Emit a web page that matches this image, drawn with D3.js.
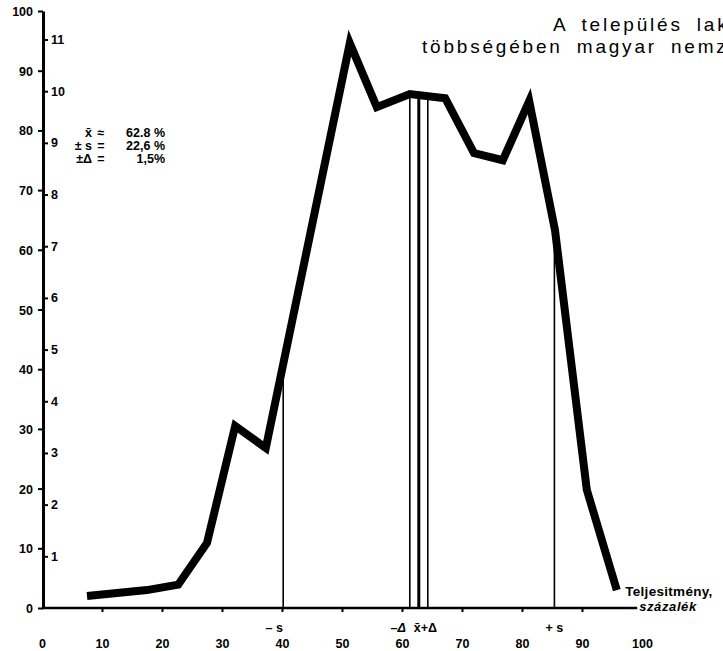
<!DOCTYPE html>
<html>
<head>
<meta charset="UTF-8">
<title>Teljesítmény eloszlás</title>
<script src="https://d3js.org/d3.v7.min.js"></script>
<style>
  body { margin: 0; background: #fff; }
  svg { display: block; background: #fff; font-family: "Liberation Sans", Arial, sans-serif; }
  .num { font-weight: bold; font-size: 12.5px; fill: #000; }
  .axis path, .axis line { stroke: #000; }
</style>
</head>
<body>
<svg id="chart"></svg>
<script>
// values
const xTickValues = [0, 10, 20, 30, 40, 50, 60, 70, 80, 90, 100];
const yTickValues = [0, 10, 20, 30, 40, 50, 60, 70, 80, 90, 100];
const countTickValues = [1, 2, 3, 4, 5, 6, 7, 8, 9, 10, 11];

const perfValues = [7.5, 12.5, 17.5, 22.7, 27.5, 32.2, 37.3, 51.3, 55.8, 61.3, 67.2, 72.0, 76.8, 81.2, 85.5, 90.8, 95.8];
const freqValues = [2.0, 2.5, 3.0, 3.9, 10.9, 30.5, 26.8, 94.6, 83.9, 86.1, 85.4, 76.2, 75.0, 84.9, 63.3, 19.8, 3.0];

const mean = 62.8, sd = 22.6, delta = 1.5;
const statSymbols = ["x̄", "± s", "±Δ"];
const statRelations = ["≈", "=", "="];
const statValues = ["62.8 %", "22,6 %", "1,5%"];

const titleLines = ["A település lakosságának", "többségében magyar nemzetiségű"];
const axisName = ["Teljesitmény,", "százalék"];
const xAxisEnd = 99.2;

const width = 723, height = 651;
const svg = d3.select("#chart").attr("width", width).attr("height", height);

const x = d3.scaleLinear().domain([0, 100]).range([42, 642]);
const y = d3.scaleLinear().domain([0, 100]).range([608, 11]);
const yCount = d3.scaleLinear().domain([0, 11]).range([608, 39.5]);

// left axis 0..100
const yAxis = svg.append("g").attr("class", "axis")
  .attr("transform", `translate(${x(0) + 1},0)`)
  .call(d3.axisLeft(y).tickValues(yTickValues).tickSize(5).tickSizeOuter(0).tickPadding(5));
yAxis.select(".domain").attr("stroke-width", 3);
yAxis.selectAll(".tick line").attr("stroke-width", 2);
yAxis.selectAll(".tick text").attr("class", "num").attr("font-family", null).attr("font-size", null)
  .attr("dy", "0.36em");

// inner count axis 1..11
const cAxis = svg.append("g").attr("class", "axis")
  .attr("transform", `translate(${x(0) + 1},0)`)
  .call(d3.axisRight(yCount).tickValues(countTickValues).tickSize(5).tickSizeOuter(0).tickPadding(3));
cAxis.select(".domain").remove();
cAxis.selectAll(".tick line").attr("stroke-width", 2);
cAxis.selectAll(".tick text").attr("class", "num").attr("font-family", null).attr("font-size", null);

// bottom axis
const xAxis = svg.append("g").attr("class", "axis")
  .attr("transform", `translate(0,${y(0)})`)
  .call(d3.axisBottom(x).tickValues(xTickValues).tickSize(4).tickSizeOuter(0).tickPadding(27));
xAxis.select(".domain").remove();
xAxis.selectAll(".tick line").attr("stroke-width", 2)
  .attr("display", d => (d === 0 || d === 100) ? "none" : null);
xAxis.selectAll(".tick text").attr("class", "num").attr("font-family", null).attr("font-size", null);
svg.append("line")
  .attr("x1", x(0)).attr("x2", x(xAxisEnd))
  .attr("y1", y(0)).attr("y2", y(0))
  .attr("stroke", "#000").attr("stroke-width", 2.5);

// height of the curve at a given performance value
function curveAt(v) {
  const i = d3.bisectLeft(perfValues, v);
  const t = (v - perfValues[i - 1]) / (perfValues[i] - perfValues[i - 1]);
  return freqValues[i - 1] + t * (freqValues[i] - freqValues[i - 1]);
}

// vertical marker lines
const markers = [mean - sd, mean - delta, mean, mean + delta, mean + sd];
svg.append("g").selectAll("line")
  .data(markers)
  .join("line")
  .attr("x1", d => x(d)).attr("x2", d => x(d))
  .attr("y1", y(0)).attr("y2", d => y(curveAt(d)))
  .attr("stroke", "#000")
  .attr("stroke-width", d => d === mean ? 3 : 1.6);

// the distribution curve
const line = d3.line()
  .x((d, i) => x(perfValues[i]))
  .y(d => y(d));
svg.append("path")
  .datum(freqValues)
  .attr("d", line)
  .attr("fill", "none")
  .attr("stroke", "#000")
  .attr("stroke-width", 8)
  .attr("stroke-linejoin", "miter");

// marker labels under the axis
const markLabels = svg.append("g").attr("class", "num");
markLabels.append("text").attr("x", x(mean - sd) - 9).attr("y", y(0) + 24)
  .attr("text-anchor", "middle").text("– s");
markLabels.append("text").attr("x", x(mean - delta) - 4).attr("y", y(0) + 24)
  .attr("text-anchor", "end").style("font-style", "italic").text("–Δ");
markLabels.append("text").attr("x", x(mean) - 5).attr("y", y(0) + 24)
  .attr("text-anchor", "start").text("x̄+Δ");
markLabels.append("text").attr("x", x(mean + sd)).attr("y", y(0) + 24)
  .attr("text-anchor", "middle").text("+ s");

// axis name at the end of the x axis
svg.append("text").attr("class", "num").attr("x", x(97.2)).attr("y", y(0) - 12)
  .style("font-size", "13.5px").attr("letter-spacing", 0.3).text(axisName[0]);
svg.append("text").attr("class", "num").attr("x", x(xAxisEnd) + 2).attr("y", y(0) + 3)
  .style("font-size", "13px").style("font-style", "italic").attr("letter-spacing", 0.6).text(axisName[1]);

// statistics block
const stats = svg.append("g").attr("class", "num").style("font-size", "12.5px");
statSymbols.forEach((s, i) => {
  const by = 137 + i * 13;
  stats.append("text").attr("x", 92).attr("y", by).attr("text-anchor", "end").text(s);
  stats.append("text").attr("x", 101).attr("y", by).attr("text-anchor", "middle").text(statRelations[i]);
  stats.append("text").attr("x", 165).attr("y", by).attr("text-anchor", "end").text(statValues[i]);
});

// title (runs off the page edge as in the scan)
svg.append("g").selectAll("text")
  .data(titleLines)
  .join("text")
  .attr("x", (d, i) => i === 0 ? 553 : 422)
  .attr("y", (d, i) => 31 + i * 22)
  .attr("font-size", 19)
  .attr("letter-spacing", 2.8)
  .attr("word-spacing", 6)
  .text(d => d);
</script>
</body>
</html>
